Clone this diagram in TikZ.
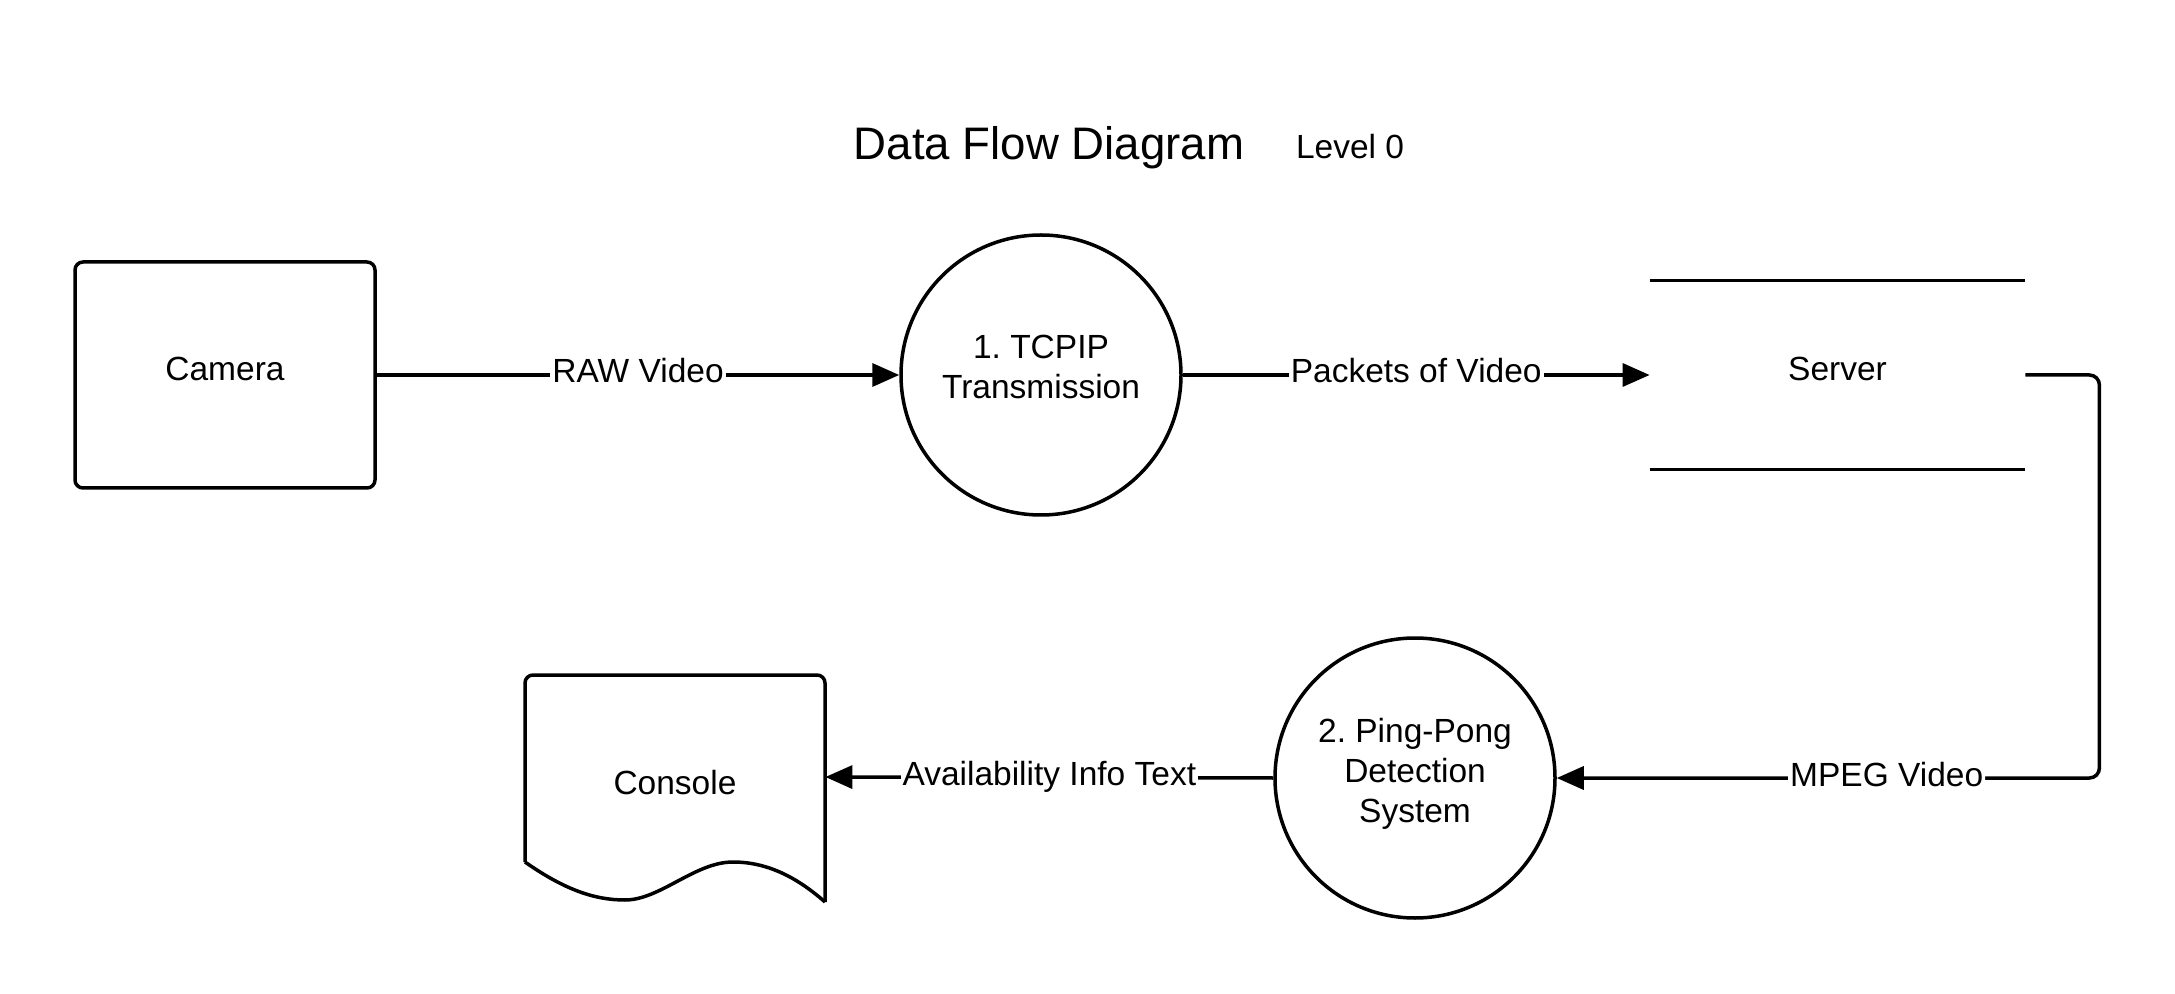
\documentclass[tikz,border=0pt]{standalone}
\usepackage{fontspec}
\setmainfont{Liberation Sans}
\frenchspacing
\usetikzlibrary{arrows.meta,calc}
\tikzset{
  lw/.style={line width=1.75pt},
  txtfont/.style={font=\fontsize{16.75}{20}\selectfont\frenchspacing, align=center},
  txt/.style={txtfont, text height=12pt, text depth=6pt},
  entity/.style={lw, draw, rounded corners=4pt, minimum width=150pt, minimum height=113pt, inner sep=0pt, txt},
  process/.style={lw, draw, circle, minimum size=140pt, inner sep=0pt, txtfont, text depth=8pt},
  store/.style={minimum width=187.5pt, minimum height=94pt, inner sep=0pt, txt},
  doc/.style={minimum width=150pt, minimum height=113pt, inner sep=0pt},
  lbl/.style={txt, fill=white, inner sep=1pt, text height=12pt, text depth=4pt},
  flow/.style={lw, -{Triangle[length=13.5pt,width=11.5pt]}},
}
\begin{document}
\begin{tikzpicture}[x=0.5pt,y=-0.5pt]
\useasboundingbox (0,0) rectangle (2175,994);
% title
\node[anchor=base, font=\fontsize{22.8}{27}\selectfont] (title) at (1049,160) {Data Flow Diagram};
\node[anchor=base, font=\fontsize{16.75}{20}\selectfont] (level) at (1350,159) {Level 0};
% nodes
\node[entity] (camera) at (225,375) {Camera};
\node[process] (c1) at (1041,375) {1. TCPIP\\Transmission};
\node[store] (server) at (1837.5,375) {Server};
\draw[lw] (server.north west) -- (server.north east);
\draw[lw] (server.south west) -- (server.south east);
\node[process] (c2) at (1415,778) {2. Ping-Pong\\Detection\\System};
\node[doc] (console) at (675,777) {};
\draw[lw, rounded corners=4pt] (525,862) -- (525,675) -- (825,675) -- (825,902);
\draw[lw] (825,902) .. controls (800,880) and (770,862) .. (733,862)
  .. controls (695,862) and (660,900) .. (625,900)
  .. controls (595,900) and (565,890) .. (525,862);
\node[txt] (consoletext) at (675,788) {Console};
% flows
\draw[flow] (camera.east) -- node[lbl]{RAW Video} (c1.west);
\draw[flow] (c1.east) -- node[lbl]{Packets of Video} (server.west);
\draw[flow, rounded corners=5pt] (server.east) -- ++(74,0) |- node[lbl, pos=0.696]{MPEG Video} (c2.east);
\draw[flow] (c2.west) -- node[lbl]{Availability Info Text} (console.east);
\end{tikzpicture}
\end{document}
